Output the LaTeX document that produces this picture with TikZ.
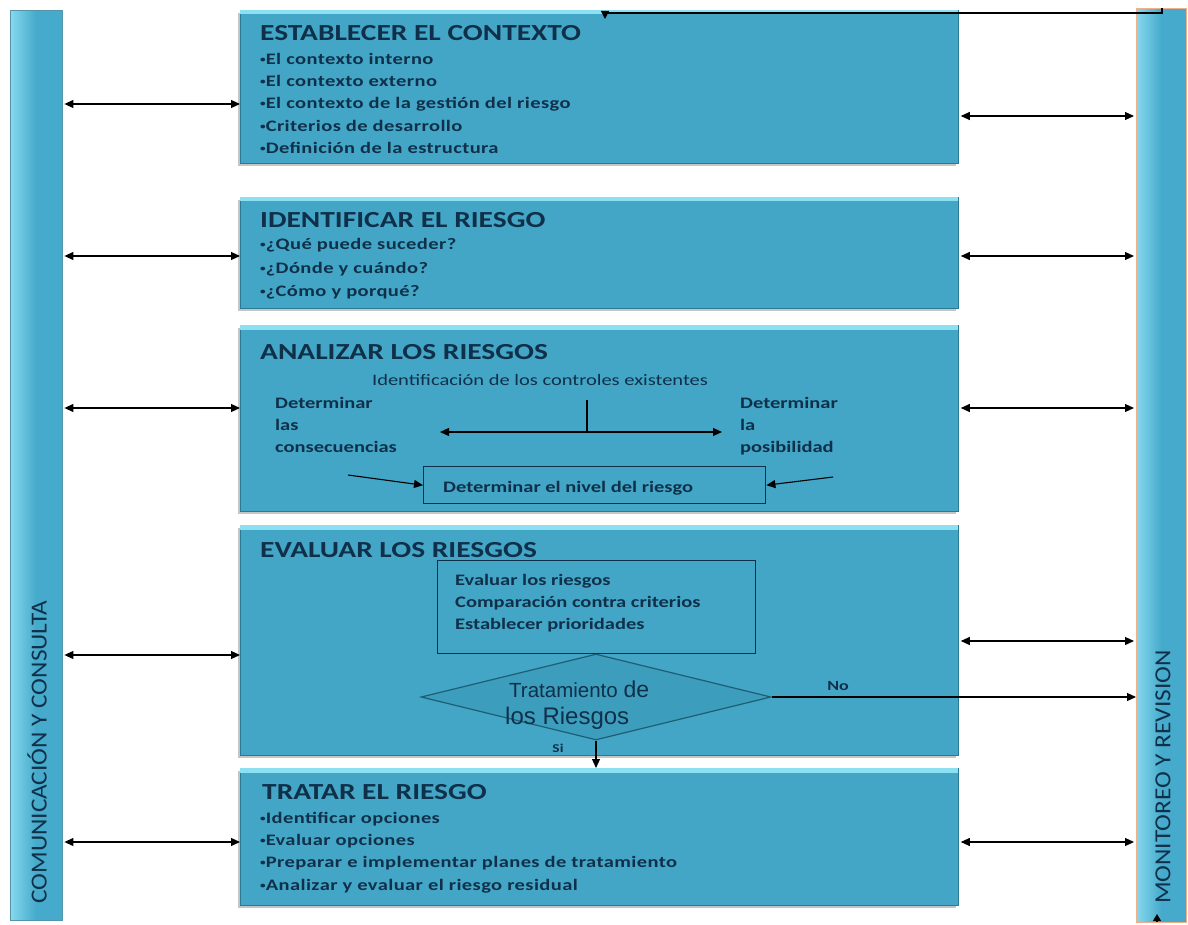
\documentclass[tikz,border=0pt]{standalone}
\usepackage{fontspec}
\setmainfont{Carlito}
\newfontfamily\wide[FakeStretch=1.28]{Carlito}
\newfontfamily\widesp[FakeStretch=1.28,LetterSpace=2.6]{Carlito}
\newfontfamily\sidef[FakeStretch=1.1]{Carlito}
\newfontfamily\arialf{Liberation Sans}
\usetikzlibrary{arrows.meta,shapes.geometric,shadows}
\definecolor{boxblue}{HTML}{43A6C6}
\definecolor{boxedge}{HTML}{2A7A94}
\definecolor{boxtop}{HTML}{8BE0F2}
\definecolor{barblue}{HTML}{45AACB}
\definecolor{barlight}{HTML}{86D8EE}
\definecolor{navy}{HTML}{10304A}
\definecolor{orangeedge}{HTML}{F0B088}
\definecolor{diafill}{HTML}{3D9DBC}
\definecolor{diaedge}{HTML}{1E5E74}
\newcommand{\bul}{\raisebox{0.15em}{\scalebox{0.55}{•}}}
\begin{document}
\begin{tikzpicture}[x=1pt,y=-1pt,
  stage/.style={draw=boxedge, fill=boxblue, line width=0.8pt, inner sep=0pt, anchor=north west,
    drop shadow={shadow xshift=-2pt,shadow yshift=-3pt,opacity=0.45}},
  bar/.style={draw=boxedge!80, inner sep=0pt, anchor=north west, left color=barlight, right color=barblue, middle color=barblue},
  ttl/.style={anchor=base west, inner sep=0pt, text=navy, font=\fontsize{23}{26}\wide\bfseries},
  item/.style={anchor=base west, inner sep=0pt, text=navy, font=\fontsize{16}{20}\widesp\bfseries},
  txt/.style={inner sep=0pt, text=navy, font=\fontsize{16}{20}\wide\bfseries},
  dbl/.style={{Triangle[length=9pt,width=8pt]}-{Triangle[length=9pt,width=8pt]}, line width=1.1pt, black},
  one/.style={-{Triangle[length=9pt,width=8pt]}, line width=1.1pt, black},
  inner/.style={draw=navy, line width=1.4pt, inner sep=0pt, anchor=north west},
  side/.style={rotate=90, text=navy, inner sep=0pt, font=\fontsize{23}{26}\sidef}
]
\useasboundingbox (0,0) rectangle (1188,925);
\fill[white] (0,0) rectangle (1188,925);

% side bars
\node[bar, minimum width=52pt, minimum height=910pt] (lbar) at (10,10) {};
\node[side] (lbl) at (37,752) {COMUNICACIÓN Y CONSULTA};
\node[bar, draw=orangeedge, line width=1pt, minimum width=50pt, minimum height=914pt] (rbar) at (1136,8) {};
\node[side] (rlbl) at (1163,777) {MONITOREO Y REVISION};

% stage boxes
\node[stage, minimum width=718pt, minimum height=153pt] (s1) at (240,10) {};
\node[stage, minimum width=718pt, minimum height=111pt] (s2) at (240,197) {};
\node[stage, minimum width=718pt, minimum height=186pt] (s3) at (240,325) {};
\node[stage, minimum width=718pt, minimum height=230pt] (s4) at (240,525) {};
\node[stage, minimum width=718pt, minimum height=137pt] (s5) at (240,768) {};
\foreach \s in {s1,s2,s3,s4,s5}{
  \fill[boxtop] ([xshift=0.4pt,yshift=-0.4pt]\s.north west) rectangle ([xshift=-0.4pt,yshift=-4.5pt]\s.north east);
}

% box 1
\node[ttl] (t1) at (260,40.5) {ESTABLECER EL CONTEXTO};
\foreach \y/\t [count=\i] in {59/{El contexto interno},81/{El contexto externo},103/{El contexto de la gestión del riesgo},126/{Criterios de desarrollo},148/{Definición de la estructura}}
  \node[item] (a\i) at (260,\y+5.5) {\bul\t};
% box 2
\node[ttl] (t2) at (260,227.5) {IDENTIFICAR EL RIESGO};
\foreach \y/\t [count=\i] in {244/{¿Qué puede suceder?},268/{¿Dónde y cuándo?},291/{¿Cómo y porqué?}}
  \node[item] (b\i) at (260,\y+5.5) {\bul\t};
% box 3
\node[ttl] (t3) at (260,359.5) {ANALIZAR LOS RIESGOS};
\node[txt, anchor=base, font=\fontsize{16}{20}\wide] (idc) at (540,385.5) {Identificación de los controles existentes};
\foreach \y/\t [count=\i] in {403/Determinar,425/las,447/consecuencias}
  \node[txt, anchor=base west] (dc\i) at (275,\y+5.5) {\t};
\foreach \y/\t [count=\i] in {403/Determinar,425/la,447/posibilidad}
  \node[txt, anchor=base west] (dp\i) at (740,\y+5.5) {\t};
\coordinate (vt) at (587,400);
\coordinate (vb) at (587,432);
\coordinate (hl) at (440,432);
\coordinate (hr) at (722,432);
\draw[line width=1.3pt] (vt) -- (vb);
\draw[dbl] (hl) -- (hr);
\node[inner, minimum width=342pt, minimum height=37pt] (niv) at (423,466) {};
\node[txt, anchor=base west] (nivt) at (443,492.5) {Determinar el nivel del riesgo};
\coordinate (al) at (348,475);
\coordinate (ar) at (833,477);
\draw[one] (al) -- (niv.west);
\draw[one] (ar) -- (niv.east);
% box 4
\node[ttl] (t4) at (260,557.5) {EVALUAR LOS RIESGOS};
\node[inner, minimum width=318pt, minimum height=93pt] (ev) at (437,560) {};
\foreach \y/\t [count=\i] in {580/{Evaluar los riesgos},602/{Comparación contra criterios},624/{Establecer prioridades}}
  \node[txt, anchor=base west] (e\i) at (455,\y+5.5) {\t};
\node[diamond, draw=diaedge, fill=diafill, line width=1.2pt, inner sep=0pt, aspect=4.07,
      minimum width=350pt, minimum height=86pt] (dia) at (596,697) {};
\node[anchor=base west, inner sep=0pt, text=navy, font=\arialf] (dt1) at (509,697) {\fontsize{20.5}{22}\selectfont Tratamiento \fontsize{23}{24}\selectfont de};
\node[anchor=base west, inner sep=0pt, text=navy, font=\fontsize{24}{26}\arialf] (dt2) at (505,724) {los Riesgos};
\node[txt, font=\fontsize{14}{16}\wide\bfseries] (no) at (838,686) {No};
\node[txt, font=\fontsize{12}{14}\wide\bfseries] (si) at (558,748) {Si};
\draw[one] (dia.east) -- (rbar.west |- dia.east);
\draw[one] (dia.south) -- (s5.north -| dia.south);
% box 5
\node[ttl] (t5) at (262,799.5) {TRATAR EL RIESGO};
\foreach \y/\t [count=\i] in {818/{Identificar opciones},840/{Evaluar opciones},862/{Preparar e implementar planes de tratamiento},885/{Analizar y evaluar el riesgo residual}}
  \node[item] (c\i) at (260,\y+5.5) {\bul\t};

% left arrows
\foreach \y/\n in {104/s1,256/s2,408/s3,655/s4,842/s5}{
  \coordinate (L\n) at (0,\y);
  \draw[dbl, shorten <=2pt] (lbar.east |- L\n) -- (\n.west |- L\n);
}
% right arrows
\foreach \y/\n in {116/s1,256/s2,408/s3,641/s4,842/s5}{
  \coordinate (R\n) at (0,\y);
  \draw[dbl, shorten >=2pt, shorten <=2pt] (\n.east |- R\n) -- (rbar.west |- R\n);
}
% monitoring loop
\coordinate (lp1) at (1162,13);
\coordinate (lp2) at (605,13);
\draw[line width=1.1pt] (rbar.north -| lp1) -- (lp1) -- (lp2);
\draw[-{Triangle[length=8pt,width=8pt]}, line width=1.1pt] (lp2) -- ++(0,6);
\coordinate (lb) at (1157,922);
\draw[-{Triangle[length=7pt,width=8pt]}, line width=1.1pt] (lb) -- ++(0,-8);
\end{tikzpicture}
\end{document}
